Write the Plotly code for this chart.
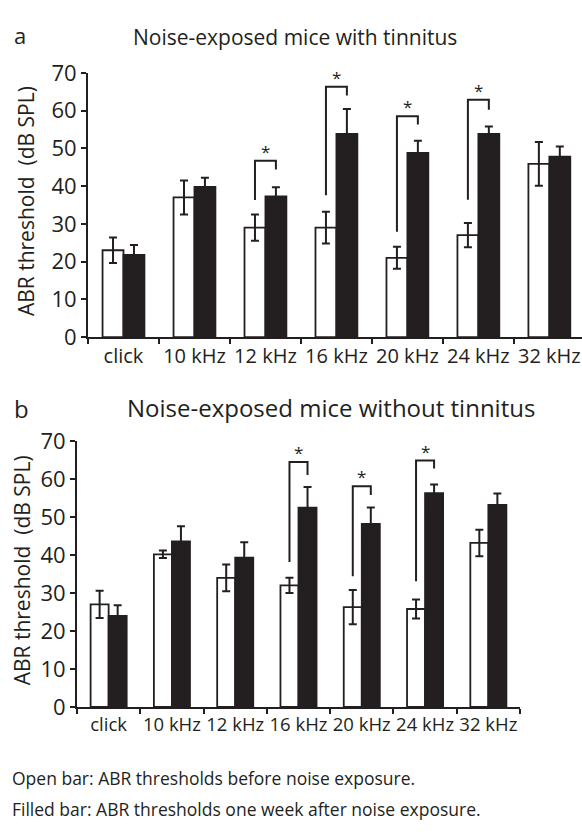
import plotly.graph_objects as go

categories = ["click", "10 kHz", "12 kHz", "16 kHz", "20 kHz", "24 kHz", "32 kHz"]

# Panel a: noise-exposed mice with tinnitus
a_before = [23.0, 37.0, 29.0, 29.0, 21.0, 27.0, 45.9]
a_before_err = [3.4, 4.5, 3.5, 4.2, 2.9, 3.2, 5.8]
a_after = [21.8, 39.8, 37.3, 53.8, 48.8, 53.8, 47.8]
a_after_err = [2.6, 2.4, 2.4, 6.6, 3.2, 2.0, 2.7]
# significance brackets: (category index, bracket top, left leg end, right leg end)
a_sig = [(2, 46.7, 36.3, 44.4), (3, 66.3, 37.6, 64.0), (4, 58.5, 27.9, 56.3), (5, 62.9, 36.4, 60.2)]

# Panel b: noise-exposed mice without tinnitus
b_before = [27.0, 40.2, 34.0, 32.0, 26.3, 25.8, 43.2]
b_before_err = [3.6, 1.0, 3.5, 2.0, 4.5, 2.5, 3.5]
b_after = [24.0, 43.6, 39.3, 52.5, 48.2, 56.3, 53.2]
b_after_err = [2.8, 4.0, 4.1, 5.4, 4.3, 2.3, 3.0]
b_sig = [(3, 64.5, 38.2, 61.1), (4, 58.1, 34.4, 55.8), (5, 64.9, 33.1, 62.8)]

y_ticks = [0, 10, 20, 30, 40, 50, 60, 70]

FONT = "Open Sans"
INK = "#231f20"
W, H = 582, 836

fig = go.Figure()

def add_panel(before, before_err, after, after_err, sig, xa, ya, bw):
    xref = "x" if xa == "xaxis" else "x2"
    yref = "y" if ya == "yaxis" else "y2"
    fig.add_trace(go.Bar(
        x=categories, y=before, width=bw, offset=-bw,
        marker=dict(color="white", line=dict(color=INK, width=1.8)),
        error_y=dict(type="data", array=before_err, color=INK, thickness=2, width=4),
        xaxis=xref, yaxis=yref, showlegend=False))
    fig.add_trace(go.Bar(
        x=categories, y=after, width=bw, offset=0,
        marker=dict(color=INK, line=dict(color=INK, width=1.8)),
        error_y=dict(type="data", array=after_err, color=INK, thickness=2, width=4),
        xaxis=xref, yaxis=yref, showlegend=False))
    for (ci, top, lbot, rbot) in sig:
        xl = ci - bw / 2
        xr = ci + bw / 2
        fig.add_shape(type="path",
                      path=f"M {xl} {lbot} L {xl} {top} L {xr} {top} L {xr} {rbot}",
                      xref=xref, yref=yref, line=dict(color=INK, width=2))
        fig.add_annotation(x=ci, y=top, xref=xref, yref=yref, text="*",
                           showarrow=False, yanchor="bottom", yshift=-4,
                           font=dict(family=FONT, size=17, color=INK))

add_panel(a_before, a_before_err, a_after, a_after_err, a_sig, "xaxis", "yaxis", 0.295)
add_panel(b_before, b_before_err, b_after, b_after_err, b_sig, "xaxis2", "yaxis2", 0.285)

axis_common = dict(showline=True, linecolor=INK, linewidth=2, ticks="outside",
                   tickcolor=INK, tickwidth=2, ticklen=5, showgrid=False,
                   zeroline=False, color=INK)

fig.update_layout(
    width=W, height=H, margin=dict(l=0, r=0, t=0, b=0),
    paper_bgcolor="white", plot_bgcolor="white", barmode="overlay",
    font=dict(family=FONT, color=INK),
    xaxis=dict(type="category", domain=[88 / W, 1.0], range=[-0.5, 6.46],
               tickson="boundaries", anchor="y", tickangle=0, tickfont=dict(size=20),
               **axis_common),
    yaxis=dict(domain=[(H - 333) / H, (H - 59) / H], range=[0, 70],
               tickvals=y_ticks, anchor="x", tickfont=dict(size=22), **axis_common),
    xaxis2=dict(type="category", domain=[77 / W, 520 / W], range=[-0.5, 6.5],
                tickson="boundaries", anchor="y2", tickangle=0, tickfont=dict(size=18.5),
                **axis_common),
    yaxis2=dict(domain=[(H - 716.7) / H, (H - 441) / H], range=[0, 70],
                tickvals=y_ticks, anchor="x2", tickfont=dict(size=22), **axis_common),
)

texts = [
    dict(x=12, y=20, text="a", size=22, xanchor="left"),
    dict(x=295, y=22, text="Noise-exposed mice with tinnitus", size=21, xanchor="center"),
    dict(x=12, y=407, text="b", size=24, xanchor="left"),
    dict(x=331, y=406, text="Noise-exposed mice without tinnitus", size=24, xanchor="center"),
    dict(x=10, y=790, text="Open bar: ABR thresholds before noise exposure.", size=17.5, xanchor="left"),
    dict(x=10, y=822, text="Filled bar: ABR thresholds one week after noise exposure.", size=17.5, xanchor="left"),
]
for t in texts:
    fig.add_annotation(x=t["x"] / W, y=1 - t["y"] / H, xref="paper", yref="paper",
                       text=t["text"], showarrow=False, xanchor=t["xanchor"], yanchor="middle",
                       font=dict(family=FONT, size=t["size"], color=INK))

for (xc, yc) in [(26, 192), (22, 575)]:
    fig.add_annotation(x=xc / W, y=1 - yc / H, xref="paper", yref="paper",
                       text="ABR threshold  (dB SPL)", textangle=-90, showarrow=False,
                       xanchor="center", yanchor="middle",
                       font=dict(family=FONT, size=21, color=INK))

fig.write_html("out.html")
